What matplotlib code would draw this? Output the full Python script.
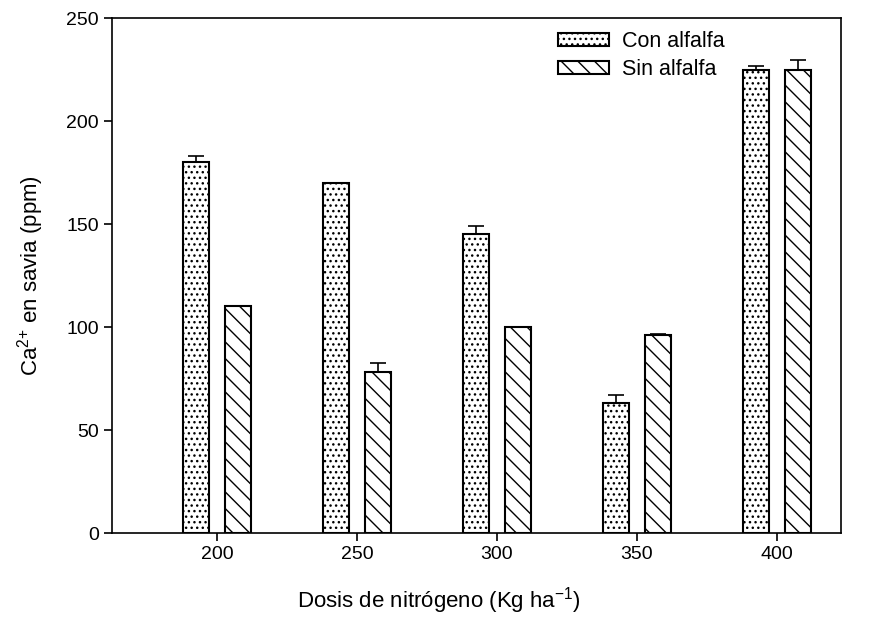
import matplotlib
import numpy as np

matplotlib.use("Agg")
import matplotlib.pyplot as plt  # noqa: E402

plt.rcParams["font.family"] = ["Liberation Sans", "DejaVu Sans"]
plt.rcParams["mathtext.fontset"] = "custom"
plt.rcParams["mathtext.rm"] = "Liberation Sans"
plt.rcParams["mathtext.it"] = "Liberation Sans:italic"
plt.rcParams["mathtext.bf"] = "Liberation Sans:bold"
plt.rcParams["hatch.linewidth"] = 1.0

doses = ["200", "250", "300", "350", "400"]
con_alfalfa = [180, 170, 145, 63, 225]
con_err = [3, 0, 4, 4, 1.5]
sin_alfalfa = [110, 78, 100, 96, 225]
sin_err = [0, 4.5, 0, 0.5, 4.5]

x = np.arange(len(doses))
width = 0.18
offset = 0.15

fig = plt.figure(figsize=(8.72, 6.17), dpi=100)
ax = fig.add_axes([0.1284, 0.1361, 0.836, 0.8347])

err_style = dict(ecolor="black", capsize=6, elinewidth=1.2, capthick=1.2)
ax.bar(x - offset, con_alfalfa, width, color="white", edgecolor="black",
       linewidth=1.5, hatch="...", label="Con alfalfa",
       yerr=[np.zeros(len(con_err)), con_err], error_kw=err_style)
ax.bar(x + offset, sin_alfalfa, width, color="white", edgecolor="black",
       linewidth=1.5, hatch="\\\\", label="Sin alfalfa",
       yerr=[np.zeros(len(sin_err)), sin_err], error_kw=err_style)

ax.set_xlim(-0.75, 4.457)
ax.set_ylim(0, 250)
ax.set_xticks(x)
ax.set_xticklabels(doses)
ax.set_yticks(np.arange(0, 251, 50))
ax.tick_params(axis="both", direction="out", length=6, width=1.2, labelsize=14,
               top=False, right=False)
for spine in ax.spines.values():
    spine.set_linewidth(1.2)

ax.set_xlabel("Dosis de nitrógeno (Kg ha$^{-1}$)", fontsize=16)
ax.xaxis.set_label_coords(0.449, -0.102)
ax.set_ylabel("Ca$^{2{+}}$ en savia (ppm)", fontsize=16)
ax.yaxis.set_label_coords(-0.09, 0.5)

ax.legend(loc="upper left", bbox_to_anchor=(0.585, 1.012), frameon=False,
          fontsize=15.5, handlelength=2.4, handleheight=0.55, labelspacing=0.3,
          handletextpad=0.6)

fig.savefig("out.png", dpi=100)
